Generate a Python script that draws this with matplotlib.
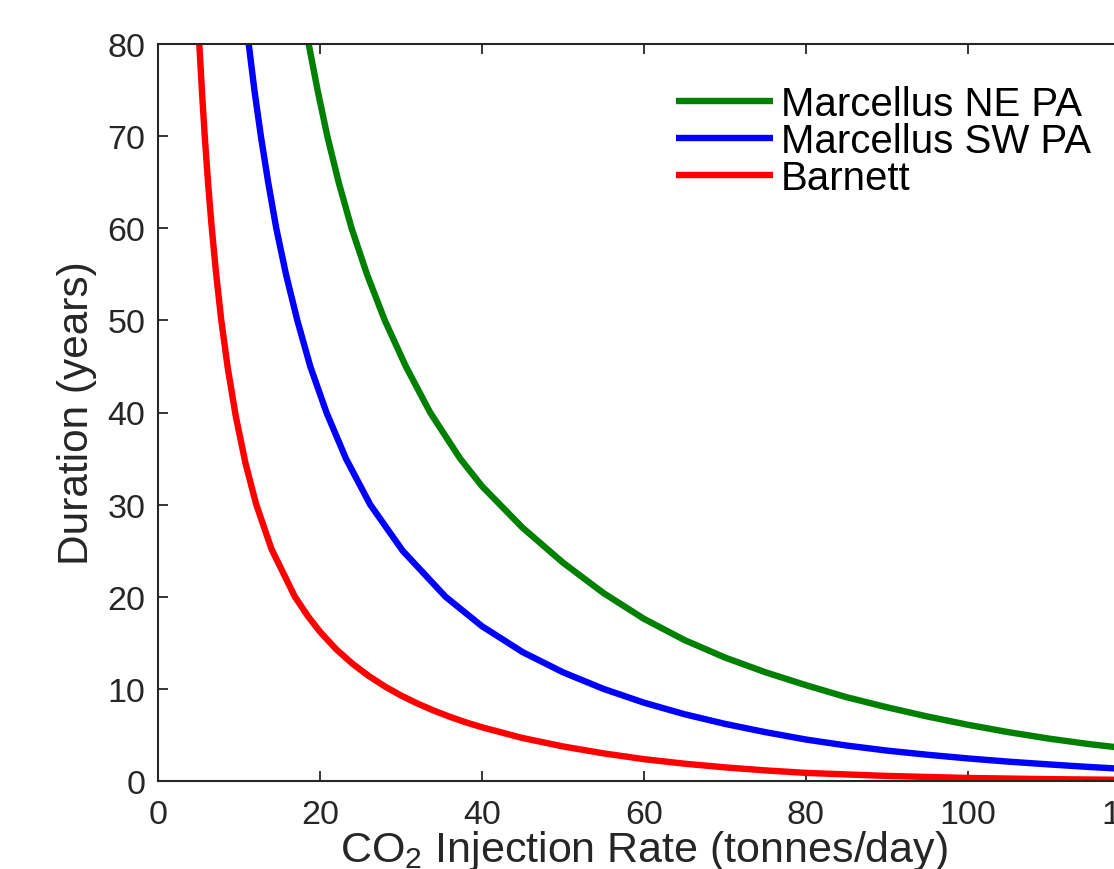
import matplotlib
matplotlib.use("Agg")
import matplotlib.pyplot as plt

# ---- data ----
rate_ne = [18.6, 19.7, 20.9, 22.3, 23.9, 25.8, 28.0, 30.6, 33.6, 37.3, 40, 45, 50, 55, 60, 65,
           70, 75, 80, 85, 90, 95, 100, 105, 110, 115, 120]
dur_ne = [80, 75, 70, 65, 60, 55, 50, 45, 40, 35, 32.0, 27.5, 23.7, 20.4, 17.6, 15.3,
          13.4, 11.8, 10.4, 9.1, 8.0, 7.0, 6.1, 5.3, 4.6, 4.0, 3.5]

rate_sw = [11.2, 11.9, 12.7, 13.6, 14.6, 15.8, 17.2, 18.8, 20.8, 23.2, 26.2, 30.2, 35.5,
           40, 45, 50, 55, 60, 65, 70, 75, 80, 85, 90, 95, 100, 105, 110, 115, 120]
dur_sw = [80, 75, 70, 65, 60, 55, 50, 45, 40, 35, 30, 25, 20,
          16.8, 14.0, 11.8, 10.0, 8.5, 7.25, 6.2, 5.3, 4.5, 3.85, 3.3, 2.85, 2.45, 2.1, 1.8,
          1.52, 1.28]

rate_barnett = [5.1, 5.45, 5.8, 6.2, 6.6, 7.15, 7.8, 8.6, 9.6, 10.8, 12.1, 14.0, 16.9,
                18.5, 20, 22, 24, 26, 28, 30, 32, 34, 36, 38, 40, 45, 50, 55, 60, 65,
                70, 75, 80, 90, 100, 110, 120]
dur_barnett = [80, 74.5, 69.6, 64.7, 60.4, 55.3, 50.1, 44.9, 39.6, 34.5, 30.1, 25.2, 20.0,
               17.9, 16.2, 14.3, 12.74, 11.41, 10.27, 9.28, 8.42, 7.66, 6.98, 6.37, 5.83,
               4.67, 3.75, 3.0, 2.37, 1.88, 1.48, 1.15, 0.88, 0.55, 0.33, 0.2, 0.12]

labels = ["Marcellus NE PA", "Marcellus SW PA", "Barnett"]
colors = ["#008000", "#0000FF", "#FF0000"]

xticks = [0, 20, 40, 60, 80, 100, 120]
yticks = [0, 10, 20, 30, 40, 50, 60, 70, 80]

plt.rcParams['font.family'] = ['Liberation Sans', 'DejaVu Sans']
plt.rcParams['mathtext.fontset'] = 'custom'
plt.rcParams['mathtext.rm'] = 'Liberation Sans'

fig = plt.figure(figsize=(11.14, 8.70), dpi=100)
ax = fig.add_axes([158/1114, 1 - 782/870, (1130 - 158)/1114, (782 - 45)/870])

series = [(rate_ne, dur_ne), (rate_sw, dur_sw), (rate_barnett, dur_barnett)]
for (x, y), lab, c in zip(series, labels, colors):
    ax.plot(x, y, color=c, lw=4.6, label=lab, solid_capstyle='butt',
            solid_joinstyle='round')

ax.set_xlim(0, 120)
ax.set_ylim(0, 80)
ax.set_xticks(xticks)
ax.set_yticks(yticks)

axcol = '#262626'
for sp in ax.spines.values():
    sp.set_linewidth(1.5)
    sp.set_color(axcol)
ax.tick_params(direction='in', top=True, right=True, length=7.5, width=1.3,
               colors=axcol, labelsize=24.5)
ax.tick_params(axis='x', pad=13)
ax.tick_params(axis='y', pad=9)

ax.set_xlabel(r'$\mathregular{CO_2}$ Injection Rate (tonnes/day)', fontsize=31,
              color=axcol, labelpad=-1.5)
ax.set_ylabel('Duration (years)', fontsize=30.5, color=axcol, labelpad=7.5)

leg = ax.legend(loc='upper left', bbox_to_anchor=((676 - 158) / 972, 1 - (86 - 45) / 737),
                frameon=False, fontsize=29, handlelength=2.4, handletextpad=0.2,
                labelspacing=-0.02, borderaxespad=0, borderpad=0)
for t in leg.get_texts():
    t.set_color('black')

fig.savefig('out.png', dpi=100)
